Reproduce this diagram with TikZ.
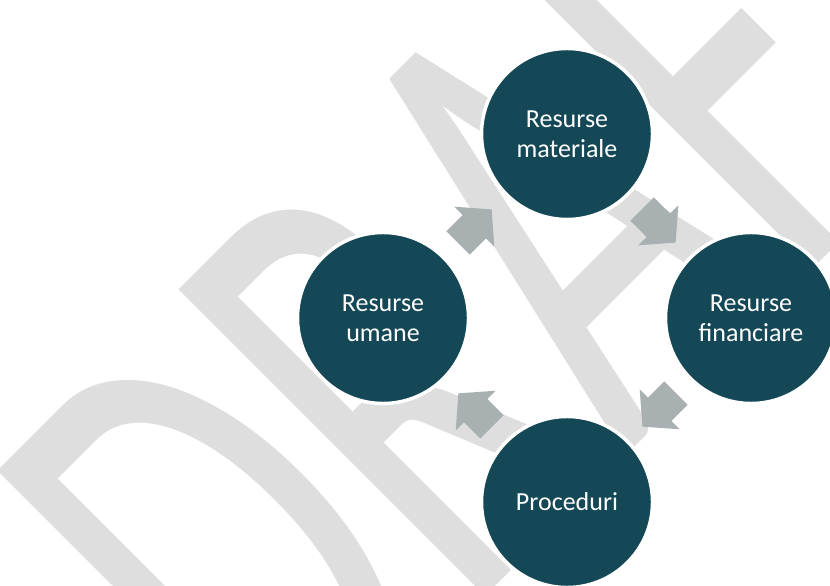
\documentclass[tikz,border=0pt]{standalone}
\usepackage{fontspec}
\setmainfont{Carlito}
\usetikzlibrary{calc}
\definecolor{circfill}{RGB}{21,72,86}
\definecolor{arrowgray}{RGB}{168,176,178}
\definecolor{wmgray}{RGB}{222,222,222}
\tikzset{
  res/.style={circle, fill=circfill, draw=white, line width=2.6pt,
    minimum size=128.25pt, inner sep=0pt, text=white, align=center,
    font=\fontsize{19.5}{22.5}\selectfont},
  watermark/.style={inner sep=0pt, anchor=base west, text=wmgray,
    font=\fontsize{311}{311}\selectfont},
  blockarrow/.pic={\fill[arrowgray] (-24,-16.5) -- (-1,-16.5) -- (-1,-28.3)
    -- (23.5,0) -- (-1,28.3) -- (-1,16.5) -- (-24,16.5) -- cycle;}
}
\begin{document}
\begin{tikzpicture}[x=0.75pt,y=0.75pt]
\useasboundingbox (0,0) rectangle (830,585);
\clip (0,0) rectangle (830,585);
\node[watermark, rotate=45, yscale=1.63] (wm) at (284.3,-212.6) {DRAFT};
\node[res] (T) at (567,451) {Resurse\\materiale};
\node[res] (R) at (751,267) {Resurse\\financiare};
\node[res] (B) at (567,83) {Proceduri};
\node[res] (L) at (383,267) {Resurse\\umane};
\coordinate (m1) at ($(L.center)!0.5!(T.center)$);
\coordinate (m2) at ($(T.center)!0.5!(R.center)$);
\coordinate (m3) at ($(R.center)!0.5!(B.center)$);
\coordinate (m4) at ($(B.center)!0.5!(L.center)$);
\pic[rotate=45] at (m1) {blockarrow};
\pic[rotate=-45] at (m2) {blockarrow};
\pic[rotate=-135] at (m3) {blockarrow};
\pic[rotate=135] at (m4) {blockarrow};
\end{tikzpicture}
\end{document}
